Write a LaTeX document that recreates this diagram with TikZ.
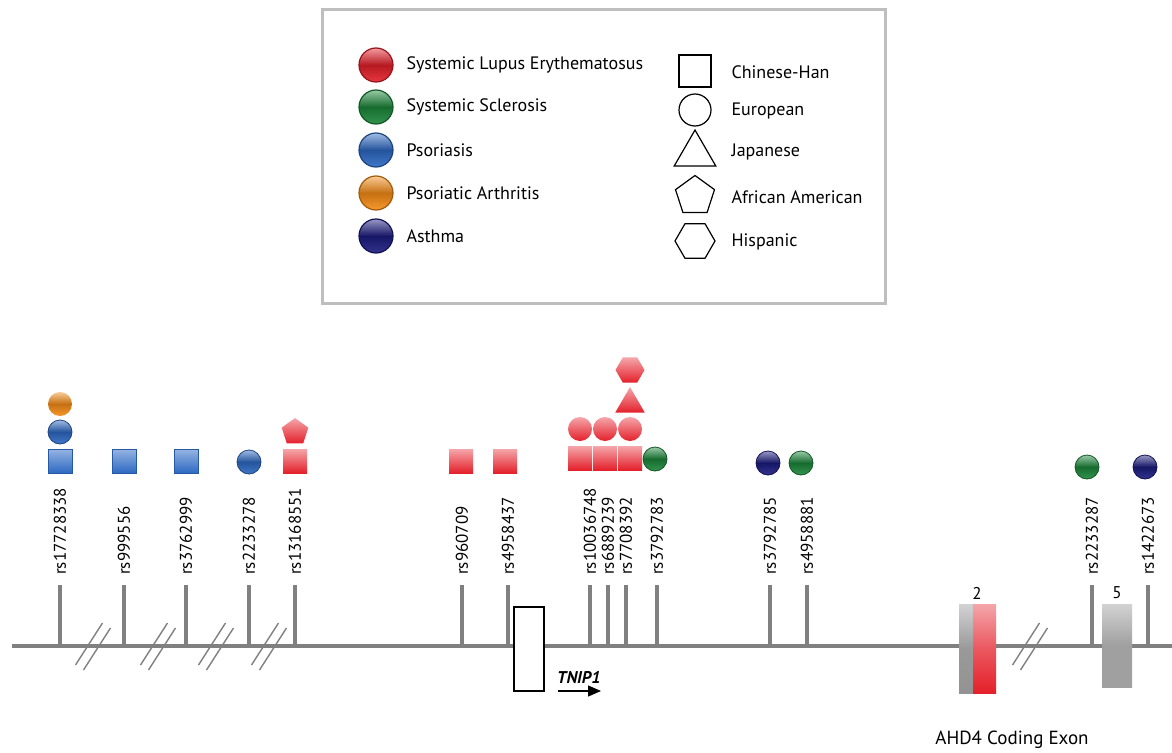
\documentclass[tikz,border=0pt]{standalone}
\usepackage{fontspec}
\setmainfont{PT Sans}
\usetikzlibrary{shapes.geometric,arrows.meta,positioning}
\definecolor{sle}{RGB}{228,32,42}
\definecolor{ssc}{RGB}{28,135,58}
\definecolor{pso}{RGB}{45,105,195}
\definecolor{psa}{RGB}{246,140,22}
\definecolor{ast}{RGB}{28,28,128}
\definecolor{gene}{RGB}{128,128,128}
\definecolor{boxline}{RGB}{190,190,190}
\newcommand*{\snpfont}{\fontsize{17}{20}\selectfont}
\newcommand*{\legfont}{\fontsize{18}{21}\selectfont}
\tikzset{%
  ball/.style={circle, inner sep=0, minimum size=24pt, draw=#1!65!black, line width=0.8pt,
    top color=#1!45!white, bottom color=#1!90!white, middle color=#1!80!black},% disease ball
  bigball/.style={ball=#1, minimum size=34pt, line width=1.2pt},
  sqmark/.style={rectangle, inner sep=0, minimum size=24pt, draw=#1!85!black, line width=0.6pt,
    top color=#1!50!white, bottom color=#1},% chinese-han
  flat/.style={inner sep=0, top color=#1!40!white, bottom color=#1},% red markers
  legshape/.style={draw, line width=1.2pt, inner sep=0, fill=white},
  snp/.style={rotate=90, anchor=west, inner sep=0, font=\snpfont},
  stem/.style={gene, line width=4pt},
  brk/.style={gene, line width=1.4pt}
}
\begin{document}
\begin{tikzpicture}[x=1pt, y=-1pt]
\useasboundingbox (0,0) rectangle (1172,752);
% legend
\draw[boxline, line width=3pt, fill=white] (322,10) rectangle (885,303);
\node[bigball=sle] (lsle) at (376,65) {};
\node[bigball=ssc] (lssc) at (376,107) {};
\node[bigball=pso] (lpso) at (376,150) {};
\node[bigball=psa] (lpsa) at (376,193) {};
\node[bigball=ast] (last) at (376,236) {};
\node[anchor=west, font=\legfont] at (403,65) {Systemic Lupus Erythematosus};
\node[anchor=west, font=\legfont] at (403,107) {Systemic Sclerosis};
\node[anchor=west, font=\legfont] at (403,150) {Psoriasis};
\node[anchor=west, font=\legfont] at (403,193) {Psoriatic Arthritis};
\node[anchor=west, font=\legfont] at (403,236) {Asthma};
\node[legshape, rectangle, minimum size=32pt] (lhan) at (695,71) {};
\node[legshape, circle, minimum size=32pt] (leur) at (695,110) {};
\node[legshape, regular polygon, regular polygon sides=3, minimum size=48pt] (ljap) at (695,154) {};
\node[legshape, regular polygon, regular polygon sides=5, minimum size=41pt] (lafr) at (695,196) {};
\node[legshape, regular polygon, regular polygon sides=6, minimum size=40pt] (lhis) at (695,241) {};
\node[anchor=west, font=\legfont] at (728,72) {Chinese-Han};
\node[anchor=west, font=\legfont] at (728,111) {European};
\node[anchor=west, font=\legfont] at (728,152) {Japanese};
\node[anchor=west, font=\legfont] at (728,197) {African American};
\node[anchor=west, font=\legfont] at (728,242) {Hispanic};

% gene line, stems and labels
\coordinate (start) at (12,646);
\coordinate (end) at (1172,646);
\draw[gene, line width=4pt] (start) -- (end);
\foreach \x/\name in {60/rs17728338, 124/rs999556, 186/rs3762999, 249/rs2233278,
  295/rs13168551, 462/rs960709, 508/rs4958437, 590/rs10036748, 608/rs6889239,
  626/rs7708392, 657/rs3792783, 770/rs3792785, 807/rs4958881, 1092/rs2233287,
  1148/rs1422673}{
  \coordinate (b\name) at (\x,646);
  \coordinate (t\name) at (\x,585);
  \draw[stem] (b\name) -- (t\name);
  \node[snp] (\name) at (\x,575) {\name};
}
\foreach \x in {93,158,216,269,1030}{
  \draw[brk] (\x-17.5,665) -- (\x+9.5,623);
  \draw[brk] (\x-9.5,670) -- (\x+17.5,628);
}

% markers
\node[sqmark=pso] (m1) at (60,461) {};
\node[ball=pso] (m1b) at (60,432) {};
\node[ball=psa, draw=none] (m1c) at (60,404) {};
\node[sqmark=pso] (m2) at (124,461) {};
\node[sqmark=pso] (m3) at (186,461) {};
\node[ball=pso] (m4) at (249,462) {};
\node[flat=sle, rectangle, minimum size=24pt] (m5) at (295,461) {};
\node[flat=sle, regular polygon, regular polygon sides=5, minimum size=28pt] (m5b) at (295,432) {};
\node[flat=sle, rectangle, minimum size=24pt] (m6) at (461,461) {};
\node[flat=sle, rectangle, minimum size=24pt] (m7) at (505,461) {};
\node[flat=sle, rectangle, minimum size=24pt] (m8) at (580,458) {};
\node[flat=sle, rectangle, minimum size=24pt] (m9) at (605,458) {};
\node[flat=sle, rectangle, minimum size=24pt] (m10) at (630,458) {};
\node[flat=sle, circle, minimum size=24pt] (m8b) at (580,429) {};
\node[flat=sle, circle, minimum size=24pt] (m9b) at (605,429) {};
\node[flat=sle, circle, minimum size=24pt] (m10b) at (630,429) {};
\node[flat=sle, regular polygon, regular polygon sides=3, minimum size=34pt] (m10c) at (630,404) {};
\node[flat=sle, regular polygon, regular polygon sides=6, minimum size=29pt] (m10d) at (630,370) {};
\node[ball=ssc] (m11) at (655,459) {};
\node[ball=ast] (m12) at (768,463) {};
\node[ball=ssc] (m13) at (801,463) {};
\node[ball=ssc] (m14) at (1087,467) {};
\node[ball=ast] (m15) at (1145,467) {};

% TNIP1 and AHD4 exons
\node[draw, line width=1.2pt, fill=white, minimum width=30pt, minimum height=84pt, inner sep=0] (tnip) at (529,649) {};
\node[anchor=west, font=\fontsize{17}{20}\selectfont\bfseries\itshape, inner sep=0] (tlab) at (557,677) {TNIP1};
\coordinate (a0) at (558,691);
\coordinate (a1) at (601,691);
\draw[line width=1.2pt, -{Triangle[length=13pt,width=11pt]}] (a0) -- (a1);
\node[inner sep=0, minimum width=14pt, minimum height=89pt, top color=gene!35, bottom color=gene!85, middle color=gene!80] (ex2a) at (966,648.5) {};
\node[inner sep=0, minimum width=23pt, minimum height=89pt, top color=sle!40!white, bottom color=sle, middle color=sle!75!white] (ex2b) at (984.5,648.5) {};
\node[inner sep=0, minimum width=30pt, minimum height=83pt, top color=gene!35, bottom color=gene!75, middle color=gene!75] (ex5) at (1117,645.5) {};
\node[font=\snpfont] (n2) at (977,593) {2};
\node[font=\snpfont] (n5) at (1117,593) {5};
\node[font=\fontsize{19}{22}\selectfont] (ahd) at (1012,740) {AHD4 Coding Exon};
\end{tikzpicture}
\end{document}
